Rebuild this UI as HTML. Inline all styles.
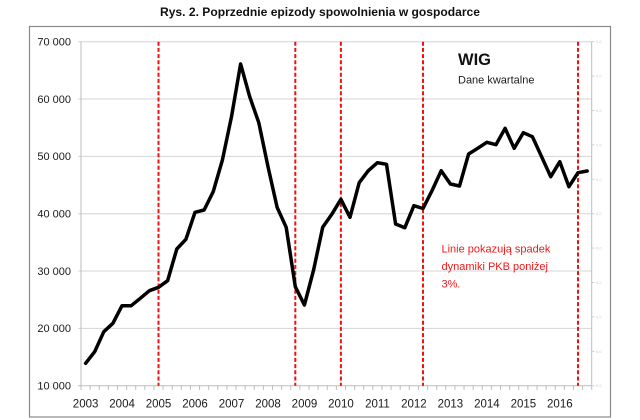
<!DOCTYPE html>
<html><head><meta charset="utf-8"><style>
html,body{margin:0;padding:0;background:#fff;}
svg{display:block;}
text{font-family:"Liberation Sans",sans-serif;}
</style></head><body>
<svg width="640" height="420" viewBox="0 0 640 420" xmlns="http://www.w3.org/2000/svg">
<rect x="0" y="0" width="640" height="420" fill="#fff"/>
<text x="320" y="16" text-anchor="middle" font-size="12" font-weight="bold" fill="#111" textLength="320" lengthAdjust="spacingAndGlyphs">Rys. 2. Poprzednie epizody spowolnienia w gospodarce</text>
<rect x="29.5" y="26.5" width="581" height="390.5" fill="#fff" stroke="#8a8a8a" stroke-width="1.2"/>
<!-- gridlines -->
<g stroke="#d4d4d4" stroke-width="1">
<line x1="78" y1="41.7" x2="591.7" y2="41.7"/>
<line x1="78" y1="99" x2="591.7" y2="99"/>
<line x1="78" y1="156.4" x2="591.7" y2="156.4"/>
<line x1="78" y1="213.7" x2="591.7" y2="213.7"/>
<line x1="78" y1="271" x2="591.7" y2="271"/>
<line x1="78" y1="328.4" x2="591.7" y2="328.4"/>
</g>
<g stroke="#bdbdbd" stroke-width="1">
<line x1="81" y1="41.7" x2="81" y2="385.7"/>
<line x1="78" y1="385.7" x2="591.7" y2="385.7"/>
<line x1="591.7" y1="41.7" x2="591.7" y2="385.7"/>
</g>
<!-- x ticks -->
<g stroke="#bdbdbd" stroke-width="1" id="xt"></g>
<!-- right ticks -->
<g stroke="#cfcfcf" stroke-width="1" id="rt"></g>
<g id="rl" fill="#c8c8c8" font-size="4"></g>
<!-- y labels -->
<g font-size="11" fill="#1a1a1a" text-anchor="end">
<text x="71" y="45.5">70 000</text>
<text x="71" y="102.8">60 000</text>
<text x="71" y="160.2">50 000</text>
<text x="71" y="217.5">40 000</text>
<text x="71" y="274.8">30 000</text>
<text x="71" y="332.2">20 000</text>
<text x="71" y="389.5">10 000</text>
</g>
<!-- x labels -->
<g font-size="11.5" fill="#1a1a1a" text-anchor="middle" id="xl"></g>
<!-- red dashed lines -->
<g stroke="#f01010" stroke-width="2" stroke-dasharray="4,2.2">
<line x1="158.5" y1="41.7" x2="158.5" y2="385.7"/>
<line x1="295.3" y1="41.7" x2="295.3" y2="385.7"/>
<line x1="340.9" y1="41.7" x2="340.9" y2="385.7"/>
<line x1="423" y1="41.7" x2="423" y2="385.7"/>
<line x1="578" y1="41.7" x2="578" y2="385.7"/>
</g>
<polyline fill="none" stroke="#000" stroke-width="3.5" stroke-linejoin="round" stroke-linecap="round" points="85.6,363.3 94.7,351.7 103.8,331.7 112.9,323.3 122.0,305.7 131.2,305.7 140.3,298.3 149.4,290.7 158.5,287.3 167.6,280.7 176.8,249 185.9,239.3 195.0,212.3 204.1,210 213.2,191.7 222.4,160 231.5,116.7 240.6,64 249.7,96.7 258.8,122.7 268.0,166.7 277.1,207.3 286.2,227.3 295.3,286.7 304.4,305 313.6,270 322.7,227.3 331.8,214.3 340.9,199.3 350.0,217.3 359.2,182.7 368.3,170.7 377.4,162.7 386.5,164.3 395.6,224 404.8,227.7 413.9,205.7 423.0,208.5 432.1,190.5 441.2,170.7 450.4,184 459.5,186 468.6,154 477.7,148.3 486.8,142.3 496.0,144.7 505.1,128.3 514.2,148.3 523.3,132.7 532.4,136.7 541.6,156.7 550.7,176.7 559.8,161.7 568.9,186.7 578.0,172.7 587.2,171"/>
<text x="458" y="65" font-size="16.5" font-weight="bold" fill="#111">WIG</text>
<text x="458" y="83.3" font-size="11" fill="#1a1a1a">Dane kwartalne</text>
<g font-size="11" fill="#f01818">
<text x="441.5" y="252.5">Linie pokazują spadek</text>
<text x="441.5" y="270">dynamiki PKB poniżej</text>
<text x="441.5" y="287.5">3%.</text>
</g>
<script>
var ns="http://www.w3.org/2000/svg";
var xt=document.getElementById("xt");
for(var k=0;k<=56;k++){var x=81+k*9.12;var l=document.createElementNS(ns,"line");l.setAttribute("x1",x);l.setAttribute("x2",x);l.setAttribute("y1",385.7);l.setAttribute("y2",390);xt.appendChild(l);}
var rt=document.getElementById("rt"),rl=document.getElementById("rl");
for(var j=0;j<=10;j++){var y=41.7+j*34.4;var l=document.createElementNS(ns,"line");l.setAttribute("x1",591.7);l.setAttribute("x2",594.5);l.setAttribute("y1",y);l.setAttribute("y2",y);rt.appendChild(l);var t=document.createElementNS(ns,"text");t.setAttribute("x",596);t.setAttribute("y",y+1.5);t.textContent="0.0";rl.appendChild(t);}
var xl=document.getElementById("xl");
for(var yr=2003;yr<=2016;yr++){var t=document.createElementNS(ns,"text");t.setAttribute("x",85.6+(yr-2003)*36.48);t.setAttribute("y",407.5);t.textContent=yr;xl.appendChild(t);}
</script>
</svg>
</body></html>
